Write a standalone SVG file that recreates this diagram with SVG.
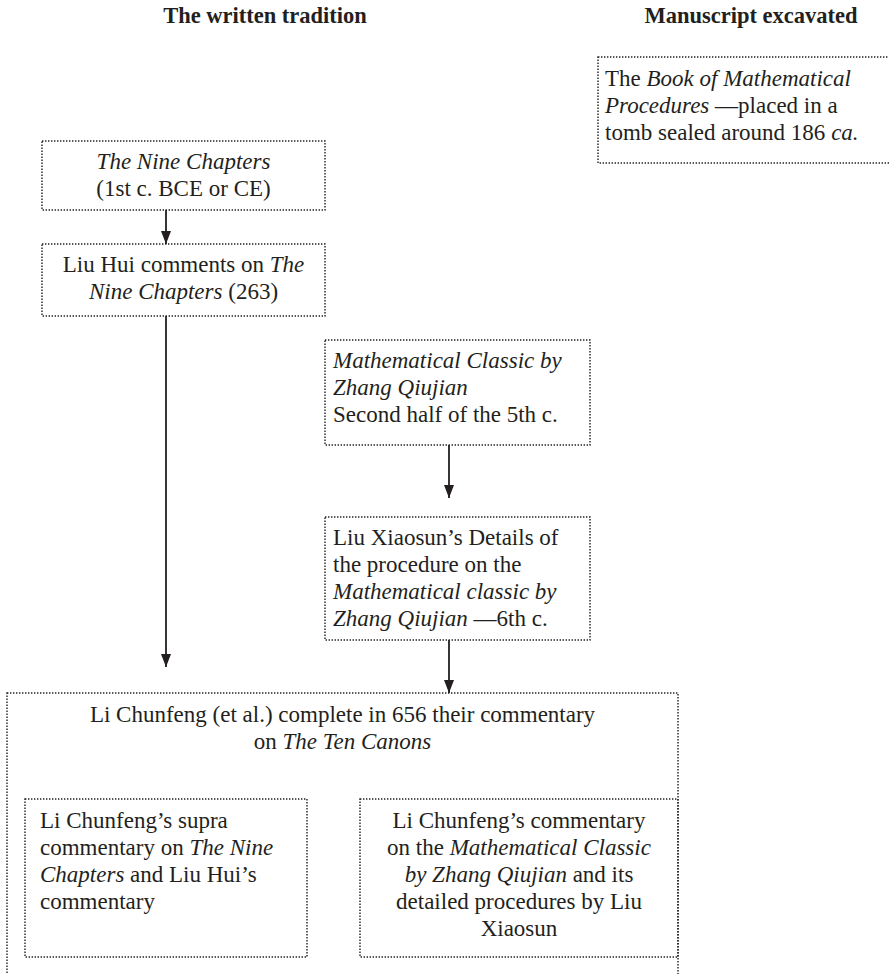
<svg xmlns="http://www.w3.org/2000/svg" width="889" height="974" viewBox="0 0 889 974">
<style>
text{font-family:"Liberation Serif","Times New Roman",serif;font-size:23px;fill:#231f20}
.h{font-weight:bold;font-size:22.5px;text-anchor:middle}
.c{text-anchor:middle}
.i{font-style:italic}
.box{fill:none;stroke:#231f20;stroke-width:1.4;stroke-dasharray:1.4 1.6}
.ln{stroke:#231f20;stroke-width:1.8;fill:none}
</style>
<defs>
<marker id="ah" viewBox="0 0 13 10" refX="13" refY="5" markerWidth="13" markerHeight="10" markerUnits="userSpaceOnUse" orient="auto">
<path d="M0,0 L13,5 L0,10 Z" fill="#231f20"/>
</marker>
</defs>
<rect width="889" height="974" fill="#fff"/>
<g id="headers">
<text class="h" x="265" y="23">The written tradition</text>
<text class="h" x="751" y="23">Manuscript excavated</text>
</g>
<g id="manuscript">
<rect class="box" x="598" y="57" width="310" height="106"/>
<text x="605" y="86">The <tspan class="i">Book of Mathematical</tspan></text>
<text x="605" y="113"><tspan class="i">Procedures</tspan> —placed in a</text>
<text x="605" y="140">tomb sealed around 186 <tspan class="i">ca.</tspan></text>
</g>
<g id="nine-chapters">
<rect class="box" x="42" y="141" width="283" height="69"/>
<text class="c i" x="183.5" y="169">The Nine Chapters</text>
<text class="c" x="183.5" y="196">(1st c. BCE or CE)</text>
</g>
<g id="liu-hui">
<rect class="box" x="42" y="244" width="283" height="72"/>
<text class="c" x="183.5" y="272">Liu Hui comments on <tspan class="i">The</tspan></text>
<text class="c" x="183.5" y="299"><tspan class="i">Nine Chapters</tspan> (263)</text>
</g>
<g id="zhang-qiujian">
<rect class="box" x="325" y="340" width="265" height="105"/>
<text class="i" x="333" y="368">Mathematical Classic by</text>
<text class="i" x="333" y="395">Zhang Qiujian</text>
<text x="333" y="422">Second half of the 5th c.</text>
</g>
<g id="liu-xiaosun">
<rect class="box" x="325" y="517" width="265" height="123"/>
<text x="333" y="545">Liu Xiaosun’s Details of</text>
<text x="333" y="572">the procedure on the</text>
<text class="i" x="333" y="599">Mathematical classic by</text>
<text x="333" y="626"><tspan class="i">Zhang Qiujian</tspan> —6th c.</text>
</g>
<g id="li-chunfeng">
<rect class="box" x="7" y="693" width="671" height="300"/>
<text class="c" x="342.5" y="722">Li Chunfeng (et al.) complete in 656 their commentary</text>
<text class="c" x="342.5" y="749">on <tspan class="i">The Ten Canons</tspan></text>
</g>
<g id="supra-commentary">
<rect class="box" x="25" y="799" width="282" height="158"/>
<text x="40" y="828">Li Chunfeng’s supra</text>
<text x="40" y="855">commentary on <tspan class="i">The Nine</tspan></text>
<text x="40" y="882"><tspan class="i">Chapters</tspan> and Liu Hui’s</text>
<text x="40" y="909">commentary</text>
</g>
<g id="classic-commentary">
<rect class="box" x="360" y="799" width="318" height="158"/>
<text class="c" x="519" y="828">Li Chunfeng’s commentary</text>
<text class="c" x="519" y="855">on the <tspan class="i">Mathematical Classic</tspan></text>
<text class="c" x="519" y="882"><tspan class="i">by Zhang Qiujian</tspan> and its</text>
<text class="c" x="519" y="909">detailed procedures by Liu</text>
<text class="c" x="519" y="936">Xiaosun</text>
</g>
<g id="connectors">
<line class="ln" x1="166" y1="210" x2="166" y2="244" marker-end="url(#ah)"/>
<line class="ln" x1="166" y1="316" x2="166" y2="667" marker-end="url(#ah)"/>
<line class="ln" x1="449" y1="445" x2="449" y2="498" marker-end="url(#ah)"/>
<line class="ln" x1="449" y1="640" x2="449" y2="693" marker-end="url(#ah)"/>
</g>
</svg>
